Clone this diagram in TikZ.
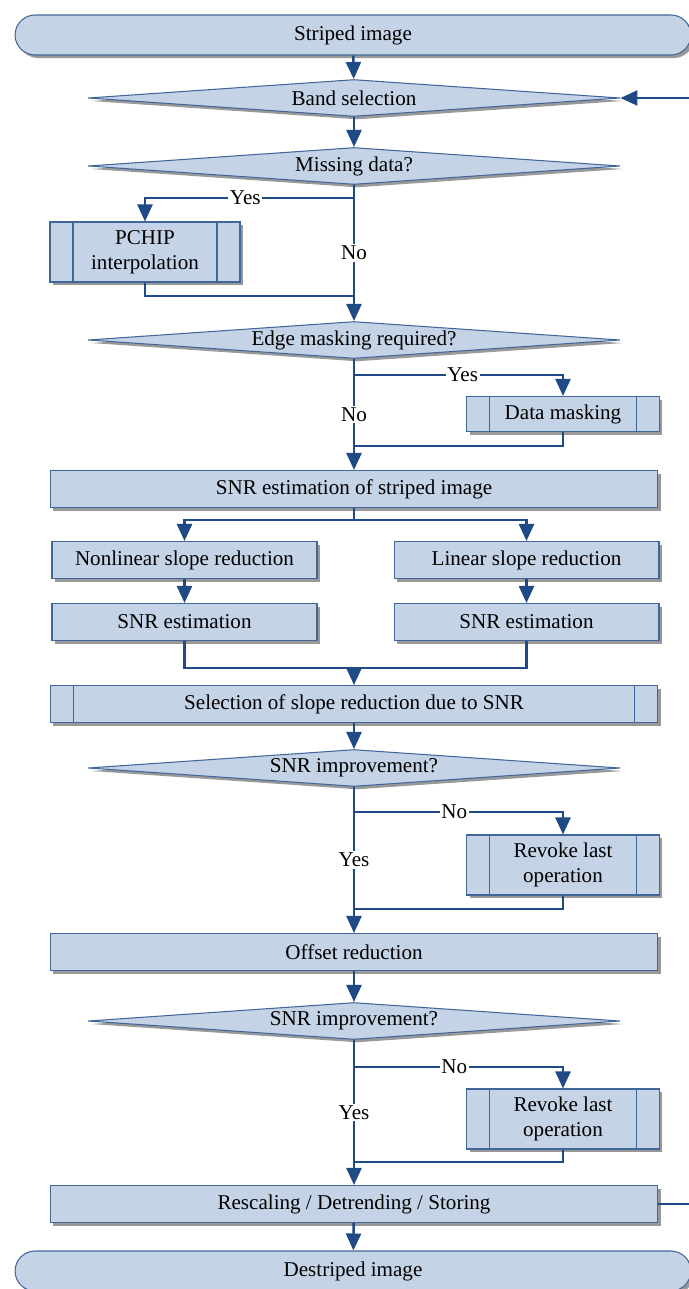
\documentclass[tikz,border=0pt]{standalone}
\usepackage{fontspec}
\setmainfont{Liberation Serif}
\usetikzlibrary{arrows.meta,shapes.geometric,shapes.misc,shadows}
\definecolor{boxfill}{HTML}{C5D3E6}
\definecolor{boxdraw}{HTML}{41679A}
\definecolor{flow}{HTML}{1F4A85}

\begin{document}
\begin{tikzpicture}[x=0.02cm, y=-0.02cm,
    every node/.style = {align=center, font=\fontsize{12}{14}\selectfont},
    base/.style = {draw=boxdraw, fill=boxfill, line width=0.6pt, inner sep=2pt,
      drop shadow={shadow xshift=0.06cm, shadow yshift=-0.06cm, fill=black!40, opacity=1}},
    term/.style = {base, rounded rectangle, minimum width=13.66cm, minimum height=0.8cm},
    decide/.style = {base, diamond, aspect=14, inner sep=0pt, minimum width=10.64cm, minimum height=0.74cm},
    proc/.style = {base, rectangle, minimum height=0.74cm},
    sub/.style = {proc, path picture={
        \draw[boxdraw, line width=0.6pt]
          ([xshift=0.46cm]path picture bounding box.north west) -- ([xshift=0.46cm]path picture bounding box.south west)
          ([xshift=-0.46cm]path picture bounding box.north east) -- ([xshift=-0.46cm]path picture bounding box.south east);}},
    line/.style = {draw=flow, line width=1.4pt},
    arr/.style = {line, -{Triangle[width=0.3cm, length=0.34cm]}},
    lbl/.style = {fill=white, inner sep=1pt}]
  \useasboundingbox (0,0) rectangle (689,1289);
  \clip (0,0) rectangle (689,1289);

  % blocks
  \node[term] (start) at (353,35) {Striped image};
  \node[decide] (band) at (354,98) {Band selection};
  \node[decide] (miss) at (354,166) {Missing data?};
  \node[sub, minimum width=3.8cm, minimum height=1.2cm] (pchip) at (145,252) {PCHIP\\interpolation};
  \node[decide] (edge) at (354,340) {Edge masking required?};
  \node[sub, minimum width=3.86cm, minimum height=0.7cm] (mask) at (563,414) {Data masking};
  \node[proc, minimum width=12.16cm] (snr) at (354,489) {SNR estimation of striped image};
  \node[proc, minimum width=5.3cm] (nonlin) at (184.5,560) {Nonlinear slope reduction};
  \node[proc, minimum width=5.3cm] (lin) at (526.5,560) {Linear slope reduction};
  \node[proc, minimum width=5.3cm] (est1) at (184.5,622) {SNR estimation};
  \node[proc, minimum width=5.3cm] (est2) at (526.5,622) {SNR estimation};
  \node[sub, minimum width=12.16cm] (sel) at (354,704) {Selection of slope reduction due to SNR};
  \node[decide] (imp1) at (354,768) {SNR improvement?};
  \node[sub, minimum width=3.86cm, minimum height=1.2cm] (rev1) at (563,865) {Revoke last\\operation};
  \node[proc, minimum width=12.16cm] (offset) at (354,952) {Offset reduction};
  \node[decide] (imp2) at (354,1021) {SNR improvement?};
  \node[sub, minimum width=3.86cm, minimum height=1.2cm] (rev2) at (563,1119) {Revoke last\\operation};
  \node[proc, minimum width=12.16cm] (resc) at (354,1204) {Rescaling / Detrending / Storing};
  \node[term] (stop) at (353,1271) {Destriped image};

  % junctions
  \coordinate (j1) at (354,296);
  \coordinate (j2) at (354,446);
  \coordinate (j3) at (354,668);
  \coordinate (j4) at (354,909);
  \coordinate (j5) at (354,1162);

  % connectors
  \draw[arr] (start) -- (band);
  \draw[arr] (band) -- (miss);
  \draw[arr] (miss.south) -- ++(0,13) -| node[lbl, pos=.26] {Yes} (pchip.north);
  \draw[arr] (miss.south) -- node[lbl] {No} (edge.north);
  \draw[line] (pchip.south) |- (j1);
  \draw[arr] (edge.south) -- ++(0,16) -| node[lbl, pos=.26] {Yes} (mask.north);
  \draw[arr] (edge.south) -- node[lbl] {No} (snr.north);
  \draw[line] (mask.south) |- (j2);
  \draw[line] (snr.south) -- ++(0,12) coordinate (s1);
  \draw[arr] (s1) -| (nonlin.north);
  \draw[arr] (s1) -| (lin.north);
  \draw[arr] (nonlin) -- (est1);
  \draw[arr] (lin) -- (est2);
  \draw[line] (est1.south) |- (j3) -| (est2.south);
  \draw[arr] (j3) -- (sel.north);
  \draw[arr] (sel) -- (imp1);
  \draw[arr] (imp1.south) -- ++(0,25) -| node[lbl, pos=.24] {No} (rev1.north);
  \draw[arr] (imp1.south) -- node[lbl] {Yes} (offset.north);
  \draw[line] (rev1.south) |- (j4);
  \draw[arr] (offset) -- (imp2);
  \draw[arr] (imp2.south) -- ++(0,27) -| node[lbl, pos=.24] {No} (rev2.north);
  \draw[arr] (imp2.south) -- node[lbl] {Yes} (resc.north);
  \draw[line] (rev2.south) |- (j5);
  \draw[arr] (resc) -- (stop);
  \draw[arr] (resc.east) -- ++(50,0) |- (band.east);
\end{tikzpicture}
\end{document}
